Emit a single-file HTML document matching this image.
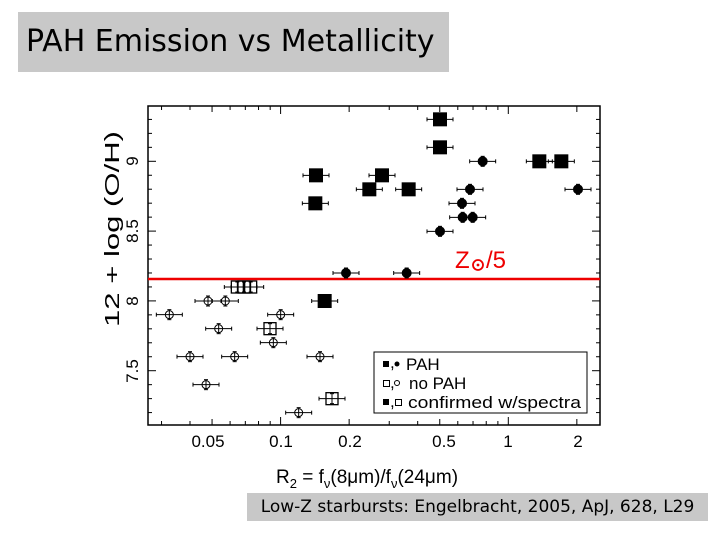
<!DOCTYPE html>
<html><head><meta charset="utf-8"><style>
body{margin:0;background:#fff;width:720px;height:540px;overflow:hidden;position:relative;font-family:"Liberation Sans",sans-serif}
.t{position:absolute;left:18px;top:12px;width:431px;height:60px;background:#c8c8c8;font-size:30px;line-height:60px;padding-left:8px;box-sizing:border-box;font-family:"Comic Sans MS","DejaVu Sans",sans-serif}
.f{position:absolute;left:247px;top:493px;width:461px;height:28px;background:#c8c8c8;font-size:17px;line-height:28px;text-align:center;font-family:"Comic Sans MS","DejaVu Sans",sans-serif}
</style></head><body>
<div class="t">PAH Emission vs Metallicity</div>
<svg width="720" height="540" style="position:absolute;left:0;top:0" id="s">
<g id="ticks" stroke="#000" stroke-width="1"></g>
<rect x="148" y="106" width="452" height="319" fill="none" stroke="#000" stroke-width="1.5"/>
<line x1="148" y1="279" x2="600" y2="279" stroke="#e00" stroke-width="2.5"/>
<text x="455" y="268" fill="#e00" font-size="24" font-family="Liberation Sans,sans-serif">Z</text>
<circle cx="478" cy="265" r="5" fill="none" stroke="#e00" stroke-width="1.8"/><circle cx="478" cy="265" r="1.4" fill="#e00"/>
<text x="486" y="268" fill="#e00" font-size="24" font-family="Liberation Sans,sans-serif">/5</text>
<g id="pts" stroke="#000"></g>
<rect x="374" y="352" width="213" height="61" fill="#fff" stroke="#000"/>
<g font-size="17" font-family="Liberation Sans,sans-serif">
<rect x="383" y="361" width="6" height="6"/><text x="390" y="368">,</text><circle cx="397" cy="364" r="2.5"/><text x="406" y="370">PAH</text>
<rect x="383.5" y="380.5" width="6" height="6" fill="none" stroke="#000"/><text x="390" y="388">,</text><circle cx="397" cy="383" r="2.5" fill="none" stroke="#000"/><text x="409" y="389">no PAH</text>
<rect x="383" y="399" width="6" height="6"/><text x="390" y="407">,</text><rect x="395.5" y="399.5" width="6" height="6" fill="none" stroke="#000"/><text x="408" y="408" textLength="173" lengthAdjust="spacingAndGlyphs">confirmed w/spectra</text>
</g>
<g font-size="17" text-anchor="middle" font-family="Liberation Sans,sans-serif">
<text x="208" y="447">0.05</text><text x="281" y="447">0.1</text><text x="350" y="447">0.2</text><text x="444" y="447">0.5</text><text x="508" y="447">1</text><text x="578" y="447">2</text>
</g>
<g font-size="17" text-anchor="middle" font-family="Liberation Sans,sans-serif">
<text transform="translate(138,161) rotate(-90)">9</text>
<text transform="translate(138,231) rotate(-90)">8.5</text>
<text transform="translate(138,301) rotate(-90)">8</text>
<text transform="translate(138,371) rotate(-90)">7.5</text>
<text transform="translate(119,229) rotate(-90)" font-size="20" textLength="196" lengthAdjust="spacingAndGlyphs">12 + log (O/H)</text>
</g>
<text x="276" y="483" font-size="19" font-family="Liberation Sans,sans-serif">R<tspan font-size="13" dy="5">2</tspan><tspan dy="-5"> = f</tspan><tspan font-size="13" dy="5">ν</tspan><tspan dy="-5">(8μm)/f</tspan><tspan font-size="13" dy="5">ν</tspan><tspan dy="-5">(24μm)</tspan></text>
</svg>
<div class="f">Low-Z starbursts: Engelbracht, 2005, ApJ, 628, L29</div>
<script>
var NS="http://www.w3.org/2000/svg";
function el(p,n,a){var e=document.createElementNS(NS,n);for(var k in a)e.setAttribute(k,a[k]);p.appendChild(e);return e;}
var T=document.getElementById('ticks');
for(var i=72;i<=93;i++){var v=i/10,y=161.3+(9-v)*139.6;var L=(i%5==0)?8:4;
el(T,'line',{x1:148,y1:y,x2:148+L,y2:y});el(T,'line',{x1:600,y1:y,x2:600-L,y2:y});}
var xs=[0.03,0.04,0.05,0.06,0.07,0.08,0.09,0.1,0.2,0.3,0.4,0.5,0.6,0.7,0.8,0.9,1,2];
xs.forEach(function(r){var x=508.3+227.7*Math.log10(r);var L=(r==0.1||r==1)?8:([0.05,0.2,0.5,2].indexOf(r)>=0?6:4);
el(T,'line',{x1:x,y1:425,x2:x,y2:425-L});el(T,'line',{x1:x,y1:106,x2:x,y2:106+L});});
var P=document.getElementById('pts');
function eb(x,y){el(P,'line',{x1:x-13,y1:y,x2:x+13,y2:y});el(P,'line',{x1:x-13,y1:y-2,x2:x-13,y2:y+2});el(P,'line',{x1:x+13,y1:y-2,x2:x+13,y2:y+2});
el(P,'line',{x1:x,y1:y-5,x2:x,y2:y+5});el(P,'line',{x1:x-2,y1:y-5,x2:x+2,y2:y-5});el(P,'line',{x1:x-2,y1:y+5,x2:x+2,y2:y+5});}
function c(z){return [100+z[0]/3,100+z[1]/3];}
[[1020,58],[1020,142],[648,226],[846,226],[808,268],[926,268],[646,310],[674,603],[1318,184],[1384,184]].forEach(function(z){var p=c(z);eb(p[0],p[1]);el(P,'rect',{x:p[0]-6.5,y:p[1]-6.5,width:13,height:13,fill:'#000'});});
[[1148,184],[1110,268],[1434,268],[1086,310],[1088,352],[1118,352],[1020,394],[738,519],[920,519]].forEach(function(z){var p=c(z);eb(p[0],p[1]);el(P,'circle',{cx:p[0],cy:p[1],r:4.5,fill:'#000'});});
[[208,644],[324,603],[376,603],[356,686],[542,644],[520,728],[270,770],[404,770],[660,770],[318,854],[596,938]].forEach(function(z){var p=c(z);eb(p[0],p[1]);el(P,'circle',{cx:p[0],cy:p[1],r:4,fill:'none'});});
[[412,561],[432,561],[452,561],[510,686],[696,896]].forEach(function(z){var p=c(z);eb(p[0],p[1]);el(P,'rect',{x:p[0]-6,y:p[1]-6,width:12,height:12,fill:'none','stroke-width':1.3});});
</script>
</body></html>
